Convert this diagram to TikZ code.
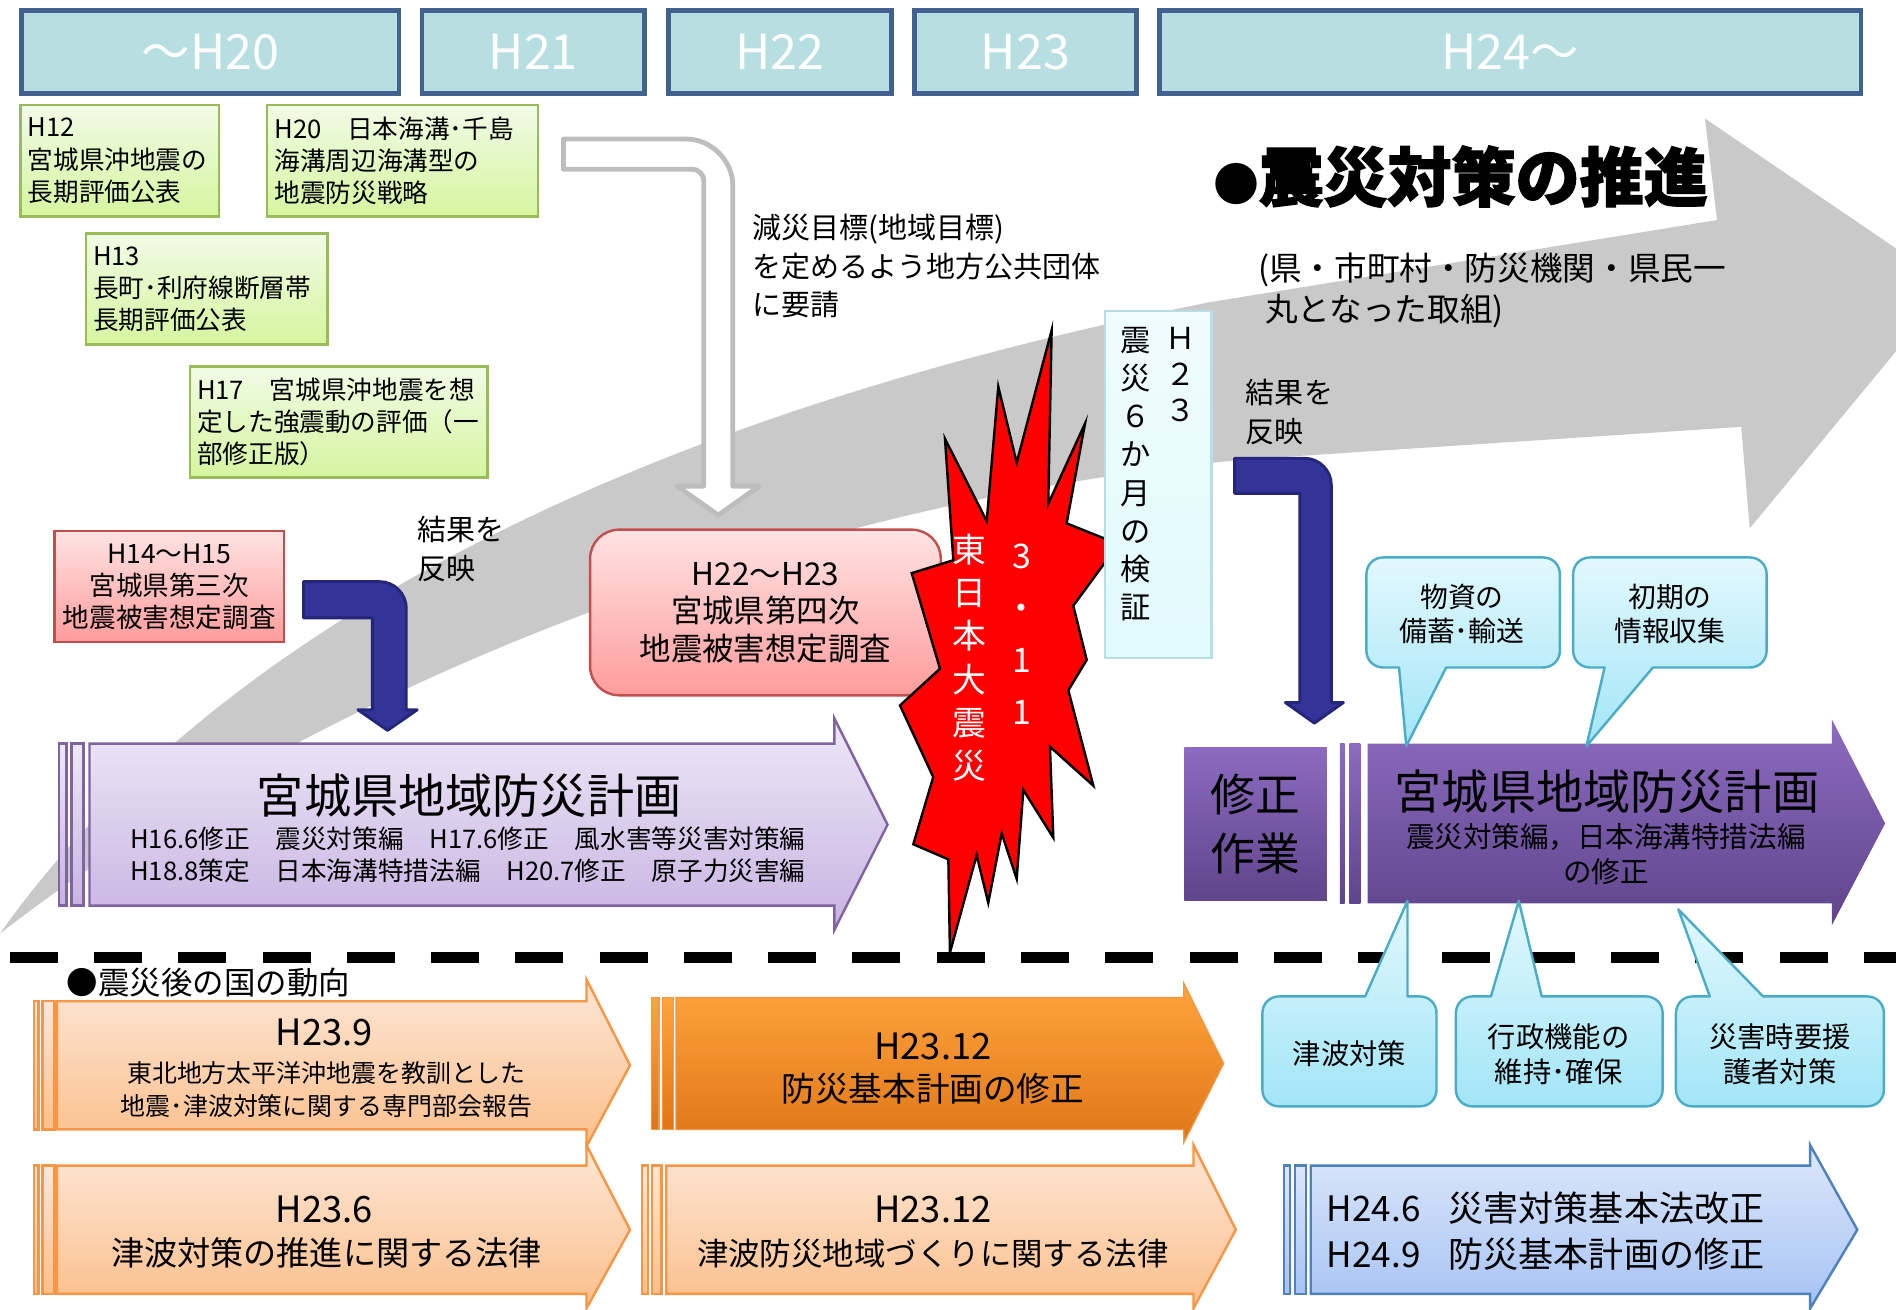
\documentclass[tikz,border=0pt]{standalone}
\usepackage{fontspec}
\setmainfont{Noto Sans CJK JP}
\newfontfamily\heavy[FakeBold=2]{Noto Sans CJK JP}
\newcommand\myfs[2]{\fontsize{#1}{#2}\selectfont}
\definecolor{hdrfill}{HTML}{B7DEE1}
\definecolor{hdrline}{HTML}{41628E}
\definecolor{bandgray}{HTML}{C9C9C9}
\definecolor{grnline}{HTML}{9BBB59}
\definecolor{grntop}{HTML}{F1FBE6}
\definecolor{grnbot}{HTML}{D5F59F}
\definecolor{pinkline}{HTML}{C0504D}
\definecolor{pinktop}{HTML}{FFE3E3}
\definecolor{pinkbot}{HTML}{FF9C9C}
\definecolor{lpline}{HTML}{8064A2}
\definecolor{lptop}{HTML}{EEE8F7}
\definecolor{lpbot}{HTML}{C7B3E2}
\definecolor{dptop}{HTML}{8C6BC0}
\definecolor{dpbot}{HTML}{5F458B}
\definecolor{navy}{HTML}{333399}
\definecolor{navyline}{HTML}{25257A}
\definecolor{cyline}{HTML}{4BACC6}
\definecolor{cytop}{HTML}{E2F8FD}
\definecolor{cybot}{HTML}{A2E5F7}
\definecolor{paleline}{HTML}{B7DEE8}
\definecolor{paletop}{HTML}{F0FCFD}
\definecolor{palebot}{HTML}{E0FAFD}
\definecolor{orline}{HTML}{F79646}
\definecolor{ortop}{HTML}{FDE7D6}
\definecolor{orbot}{HTML}{FBBF8C}
\definecolor{dotop}{HTML}{FFA43F}
\definecolor{dobot}{HTML}{DF7617}
\definecolor{blline}{HTML}{4F81BD}
\definecolor{bltop}{HTML}{DDE7FA}
\definecolor{blbot}{HTML}{A6C3F4}
\definecolor{wline}{HTML}{BDBDBD}
% block arrow: x1 y1 xhead y2 headtop tipx headbottom
\newcommand\harrow[7]{(#1,#2) -- (#3,#2) -- (#3,#5) -- (#6,{(#2+#4)/2}) -- (#3,#7) -- (#3,#4) -- (#1,#4) -- cycle}
% callout, pointer at bottom: x1 y1 x2 y2 bx1 bx2 tx ty
\newcommand\cbot[8]{({#1+14},#2) -- ({#3-14},#2) .. controls ({#3-6},#2) and (#3,{#2+6}) .. (#3,{#2+14}) -- (#3,{#4-14}) .. controls (#3,{#4-6}) and ({#3-6},#4) .. ({#3-14},#4) -- (#6,#4) -- (#7,#8) -- (#5,#4) -- ({#1+14},#4) .. controls ({#1+6},#4) and (#1,{#4-6}) .. (#1,{#4-14}) -- (#1,{#2+14}) .. controls (#1,{#2+6}) and ({#1+6},#2) .. ({#1+14},#2) -- cycle}
% callout, pointer at top
\newcommand\ctop[8]{({#1+14},#2) -- (#5,#2) -- (#7,#8) -- (#6,#2) -- ({#3-14},#2) .. controls ({#3-6},#2) and (#3,{#2+6}) .. (#3,{#2+14}) -- (#3,{#4-14}) .. controls (#3,{#4-6}) and ({#3-6},#4) .. ({#3-14},#4) -- ({#1+14},#4) .. controls ({#1+6},#4) and (#1,{#4-6}) .. (#1,{#4-14}) -- (#1,{#2+14}) .. controls (#1,{#2+6}) and ({#1+6},#2) .. ({#1+14},#2) -- cycle}
\begin{document}
\begin{tikzpicture}[x=0.5pt,y=-0.5pt,
  hdr/.style={draw=hdrline,line width=2pt,fill=hdrfill,anchor=north west,text=white,font=\myfs{20}{24},inner sep=0pt,minimum height=34pt},
  grnbox/.style={draw=grnline,line width=1pt,top color=grntop,bottom color=grnbot,anchor=north west,align=left,inner xsep=3pt,inner ysep=0pt,minimum height=46pt,font=\myfs{10.6}{13.3}},
  pinkbox/.style={draw=pinkline,line width=1pt,top color=pinktop,bottom color=pinkbot,anchor=north west,align=center,inner sep=0pt},
  txt/.style={inner sep=0pt,align=left,anchor=west},
  ctxt/.style={inner sep=0pt,align=center},
  lparrow/.style={draw=lpline,line width=1pt,top color=lptop,bottom color=lpbot},
  dparrow/.style={top color=dptop,bottom color=dpbot},
  navyarrow/.style={fill=navy,draw=navyline,line width=1.2pt,line join=round},
  callout/.style={draw=cyline,line width=1pt,top color=cytop,bottom color=cybot,line join=round},
  orarrow/.style={draw=orline,line width=1pt,top color=ortop,bottom color=orbot},
  doarrow/.style={draw=orline,line width=0.5pt,top color=dotop,bottom color=dobot},
  blarrow/.style={draw=blline,line width=1pt,top color=bltop,bottom color=blbot},
]
\path[use as bounding box] (0,0) rectangle (1568,1083);
\clip (0,0) rectangle (1568,1083);
\fill[white] (0,0) rectangle (1568,1083);

% big gray band arrow
\fill[bandgray] (0,772) .. controls (150,560) and (450,360) .. (1000,250) -- (1420,182) -- (1410,98) -- (1613,236) -- (1447,437) -- (1440,353) -- (1030,380) .. controls (700,410) and (300,540) .. (0,772) -- cycle;

% headers
\node[hdr,minimum width=156pt] (h20) at (16,7) {～H20};
\node[hdr,minimum width=92pt] (h21) at (347,7) {H21};
\node[hdr,minimum width=92pt] (h22) at (551,7) {H22};
\node[hdr,minimum width=92pt] (h23) at (754,7) {H23};
\node[hdr,minimum width=290pt] (h24) at (957,7) {H24～};

% green boxes
\node[grnbox,text width=76pt] (g12) at (16,86) {H12\\宮城県沖地震の\\長期評価公表};
\node[grnbox,text width=106pt] (g20) at (220,86) {H20　日本海溝･千島\\海溝周辺海溝型の\\地震防災戦略};
\node[grnbox,text width=94pt] (g13) at (70,192) {H13\\長町･利府線断層帯\\長期評価公表};
\node[grnbox,text width=117pt,inner xsep=3pt] (g17) at (156,302) {H17　宮城県沖地震を想\\定した強震動の評価（一\\部修正版）};

% white bent arrow
\draw[fill=white,draw=wline,line width=2pt,line join=round] (466,115) -- (568,115) .. controls (588,115) and (606,133) .. (606,153) -- (606,402) -- (628,402) -- (594,426) -- (560,402) -- (582,402) -- (582,150) .. controls (582,144) and (578,140) .. (572,140) -- (466,140) -- cycle;
\node[txt,font=\myfs{12}{15.8}] (goal) at (622,220) {減災目標(地域目標)\\を定めるよう地方公共団体\\に要請};

% title
\node[txt] (title) at (1003,146) {{\myfs{19}{19}●}{\heavy\bfseries\myfs{26.5}{30}震災対策の推進}};
\node[txt,font=\myfs{13.5}{16.75}] (subtitle) at (1040,240) {(県・市町村・防災機関・県民一\\\hspace{3pt}丸となった取組)};

% pink boxes
\node[pinkbox,minimum width=95pt,minimum height=46pt,font=\myfs{11}{13.25}] (p3) at (44,438) {H14～H15\\宮城県第三次\\地震被害想定調査};
\node[pinkbox,rounded corners=12pt,minimum width=145pt,minimum height=68.5pt,font=\myfs{13}{15.5}] (p4) at (487,437) {H22～H23\\宮城県第四次\\地震被害想定調査};

% result texts
\node[txt,font=\myfs{12}{16}] (res1) at (345,454) {結果を\\反映};
\node[txt,font=\myfs{12}{16}] (res2) at (1030,341) {結果を\\反映};

% navy bent arrows
\draw[navyarrow] (251,481) -- (314,481) .. controls (326,481) and (336,491) .. (336,503) -- (336,587) -- (345,587) -- (320.5,604) -- (296,587) -- (308,587) -- (308,511) -- (251,511) -- cycle;
\draw[navyarrow] (1021,379) -- (1079,379) .. controls (1091,379) and (1101,389) .. (1101,401) -- (1101,581) -- (1111,581) -- (1087,598) -- (1063,581) -- (1075,581) -- (1075,408) -- (1021,408) -- cycle;

% light purple plan arrow
\draw[lparrow] (49,615) rectangle (55,749);
\draw[lparrow] (59,615) rectangle (69,749);
\draw[lparrow] \harrow{74}{615}{690}{749}{594}{734}{769};
\node[ctxt,font=\myfs{19.5}{22}] (plan1) at (388,658) {宮城県地域防災計画};
\node[ctxt,font=\myfs{10.6}{13.25}] (plan1s) at (387,707) {H16.6修正　震災対策編　H17.6修正　風水害等災害対策編\\H18.8策定　日本海溝特措法編　H20.7修正　原子力災害編};

% starburst
\draw[fill=red,draw=black,line width=1pt,line join=miter] (869.7,273.2) -- (866.9,416.6) -- (897.3,350.3) -- (882.1,432.8) -- (925,450) -- (887.6,500.9) -- (898.7,545.7) -- (883.5,570.9) -- (904.2,649.8) -- (868.3,617.5) -- (871.1,692.8) -- (846.3,653.3) -- (840.8,726.8) -- (828.4,689.2) -- (817.3,746.6) -- (807.7,707.2) -- (785.6,787.8) -- (784.3,710.7) -- (755.3,698.2) -- (771.8,642.6) -- (744.3,583.4) -- (777.4,553) -- (754,474) -- (788.4,463.3) -- (781.5,362.9) -- (816,431) -- (825.6,319.8) -- (840.8,382.6) -- cycle;
\node[ctxt,text=white,font=\myfs{14}{17.9}] (quake) at (802,544) {東\\日\\本\\大\\震\\災};
\node[ctxt,text=white,font=\myfs{14}{21.5}] (date) at (845,524.5) {3\\・\\1\\1};

% verification box
\node[draw=paleline,line width=1pt,top color=paletop,bottom color=palebot,anchor=north west,minimum width=44pt,minimum height=143.5pt,inner sep=0pt] (verif) at (913,256) {};
\node[ctxt,font=\myfs{12.5}{14.8}] (verifh) at (976,310) {Ｈ\\２\\３};
\node[ctxt,font=\myfs{12.5}{15.8}] (verift) at (939,392) {震\\災\\６\\か\\月\\の\\検\\証};

% revision work + dark purple plan arrow
\node[dparrow,anchor=north west,minimum width=59pt,minimum height=63pt,align=center,font=\myfs{18.5}{24},inner sep=0pt] (fix) at (979,618) {修正\\作業};
\path[dparrow] (1108,615) rectangle (1112,747);
\path[dparrow] (1116,615) rectangle (1125,747);
\path[dparrow] \harrow{1131}{615}{1515}{747}{595}{1559}{765};
\node[ctxt,font=\myfs{19.5}{22}] (plan2) at (1329,655) {宮城県地域防災計画};
\node[ctxt,font=\myfs{11.8}{14.5}] (plan2s) at (1328,706.5) {震災対策編，日本海溝特措法編\\の修正};

% dashed separator
\coordinate (dl) at (8,792);
\coordinate (dr) at (1600,792);
\draw[line width=4.7pt,dash pattern=on 19.85pt off 15pt] (dl) -- (dr);

% callouts
\path[callout] \cbot{1130}{461}{1290}{552}{1157}{1196}{1163}{617};
\path[callout] \cbot{1301}{461}{1461}{552}{1327}{1367}{1312}{617};
\path[callout] \ctop{1044}{824}{1188}{915}{1129}{1164}{1164}{745};
\path[callout] \ctop{1204}{824}{1375}{915}{1233}{1275}{1256}{745};
\path[callout] \ctop{1386}{824}{1558}{915}{1414}{1458}{1388}{752};
\node[ctxt,font=\myfs{11.5}{14}] (c1) at (1209,508) {物資の\\備蓄･輸送};
\node[ctxt,font=\myfs{11.5}{14}] (c2) at (1381,508) {初期の\\情報収集};
\node[ctxt,font=\myfs{11.7}{14.5}] (c3) at (1116,871) {津波対策};
\node[ctxt,font=\myfs{11.7}{14.5}] (c4) at (1289,872) {行政機能の\\維持･確保};
\node[ctxt,font=\myfs{11.7}{14.5}] (c5) at (1472,872) {災害時要援\\護者対策};

% national trends
\node[txt,font=\myfs{13}{15}] (natl) at (55,813) {●震災後の国の動向};

\draw[orarrow] (28,828) rectangle (32,934);
\draw[orarrow] (35,828) rectangle (45,934);
\draw[orarrow] \harrow{47}{828}{485}{934}{810}{521}{948};
\node[ctxt,font=\myfs{15}{18}] (o1a) at (268,854) {H23.9};
\node[ctxt,font=\myfs{10.3}{13.6}] (o1b) at (270,901) {東北地方太平洋沖地震を教訓とした\\地震･津波対策に関する専門部会報告};

\draw[orarrow] (28,964) rectangle (32,1070);
\draw[orarrow] (35,964) rectangle (45,1070);
\draw[orarrow] \harrow{47}{964}{485}{1070}{947}{521}{1082};
\node[ctxt,font=\myfs{15}{18}] (o2a) at (268,1000) {H23.6};
\node[ctxt,font=\myfs{13.7}{16}] (o2b) at (270,1036.5) {津波対策の推進に関する法律};

\draw[doarrow] (539,825) rectangle (545,934);
\draw[doarrow] (548,825) rectangle (557,934);
\draw[doarrow] \harrow{559}{825}{979}{934}{813}{1012}{945};
\node[ctxt,font=\myfs{15}{18}] (o3a) at (771.5,865) {H23.12};
\node[ctxt,font=\myfs{13.9}{16}] (o3b) at (771.5,900.6) {防災基本計画の修正};

\draw[orarrow] (531,964) rectangle (536,1070);
\draw[orarrow] (539,964) rectangle (547,1070);
\draw[orarrow] \harrow{551}{964}{987}{1070}{947}{1022}{1082};
\node[ctxt,font=\myfs{15}{18}] (o4a) at (771.5,1000) {H23.12};
\node[ctxt,font=\myfs{13}{16}] (o4b) at (771.5,1036.5) {津波防災地域づくりに関する法律};

\draw[blarrow] (1062,964) rectangle (1067,1070);
\draw[blarrow] (1071,964) rectangle (1080,1070);
\draw[blarrow] \harrow{1084}{964}{1497}{1070}{947}{1536}{1082};
\node[txt,font=\myfs{14.5}{18.8}] (bl) at (1097,1018) {H24.6\hspace{0.8em}災害対策基本法改正\\H24.9\hspace{0.8em}防災基本計画の修正};
\end{tikzpicture}
\end{document}
